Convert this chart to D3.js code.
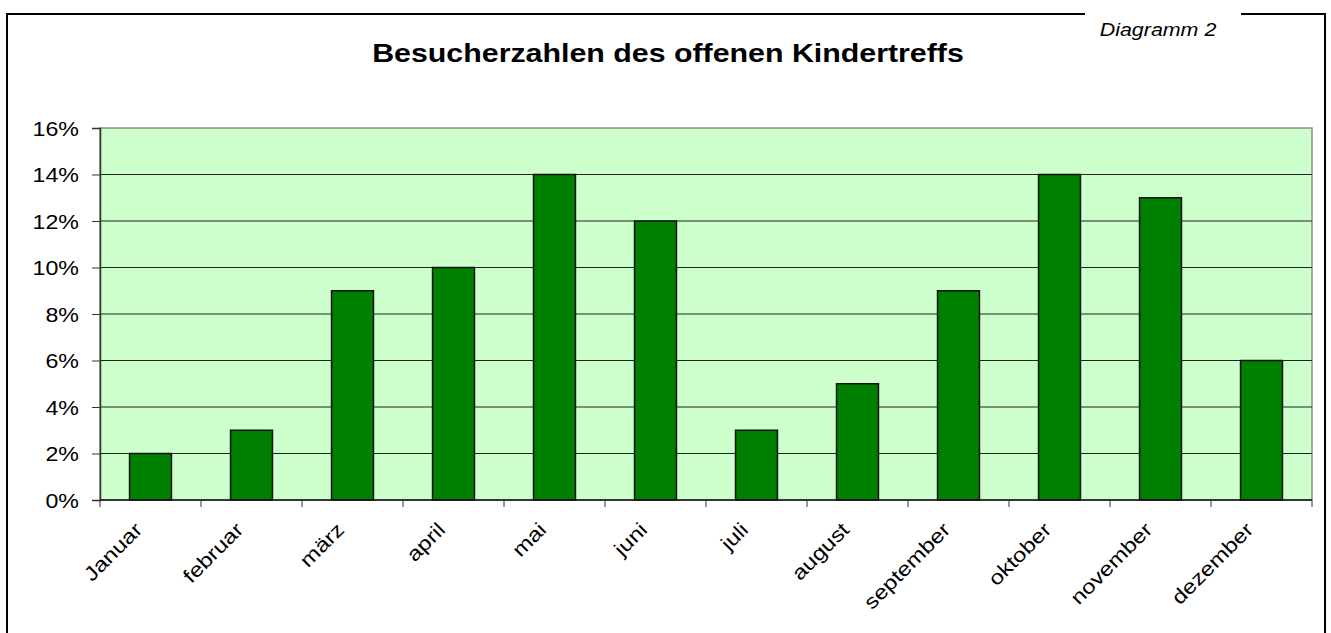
<!DOCTYPE html>
<html>
<head>
<meta charset="utf-8">
<title>Besucherzahlen</title>
<style>
  body { margin: 0; background: #fff; }
  text { font-family: Arial, "Liberation Sans", sans-serif; fill: #000; }
</style>
</head>
<body>
<script src="https://cdn.jsdelivr.net/npm/d3@7"></script>
<script>
// data
var months = ["Januar", "februar", "märz", "april", "mai", "juni", "juli",
  "august", "september", "oktober", "november", "dezember"];
var values = [2, 3, 9, 10, 14, 12, 3, 5, 9, 14, 13, 6];
var yTicks = [0, 2, 4, 6, 8, 10, 12, 14, 16];
var title = "Besucherzahlen des offenen Kindertreffs";
var caption = "Diagramm 2";

var W = 1331, H = 633;
var stretch = 1.19; // text in the original is a bit wide
var plot = { left: 100, top: 128, right: 1312, bottom: 500 };

var svg = d3.select("body").append("svg")
  .attr("width", W)
  .attr("height", H);

// frame with a gap on top for the caption
svg.append("path")
  .attr("d", "M1085,14 H7 V640 M1241,14 H1325 V640")
  .attr("fill", "none")
  .attr("stroke", "#000")
  .attr("stroke-width", 2);

svg.append("text")
  .attr("transform", "translate(1158,36) scale(" + stretch + ",1)")
  .attr("text-anchor", "middle")
  .style("font-size", "18px")
  .style("font-style", "italic")
  .text(caption);

svg.append("text")
  .attr("transform", "translate(668,62) scale(" + stretch + ",1)")
  .attr("text-anchor", "middle")
  .style("font-size", "25.5px")
  .style("font-weight", "bold")
  .text(title);

var x = d3.scaleBand()
  .domain(months)
  .range([plot.left, plot.right])
  .paddingInner(0.585)
  .paddingOuter(0.2925);

var y = d3.scaleLinear()
  .domain([0, 16])
  .range([plot.bottom, plot.top]);

// plot background
svg.append("rect")
  .attr("x", plot.left)
  .attr("y", plot.top)
  .attr("width", plot.right - plot.left)
  .attr("height", plot.bottom - plot.top)
  .attr("fill", "#ccffcc")
  .attr("stroke", "#8c8c8c")
  .attr("stroke-width", 1.5);

// grid
svg.append("g")
  .selectAll("line")
  .data(yTicks.filter(function(d) { return d > 0 && d < 16; }))
  .enter().append("line")
  .attr("x1", plot.left)
  .attr("x2", plot.right)
  .attr("y1", function(d) { return y(d); })
  .attr("y2", function(d) { return y(d); })
  .attr("stroke", "#222")
  .attr("stroke-width", 1);

// bars
svg.append("g")
  .selectAll("rect")
  .data(values)
  .enter().append("rect")
  .attr("x", function(d, i) { return x(months[i]); })
  .attr("y", function(d) { return y(d); })
  .attr("width", x.bandwidth())
  .attr("height", function(d) { return y(0) - y(d); })
  .attr("fill", "#008000")
  .attr("stroke", "#111")
  .attr("stroke-width", 1.5);

// y axis
var yAxis = svg.append("g")
  .attr("transform", "translate(" + plot.left + ",0)")
  .call(d3.axisLeft(y).tickValues(yTicks).tickSize(8).tickPadding(13)
    .tickFormat(function(d) { return d + "%"; }));
yAxis.select(".domain").attr("stroke", "#333").attr("stroke-width", 1.5);
yAxis.selectAll(".tick line").attr("stroke", "#333");
yAxis.selectAll(".tick text")
  .attr("x", null).attr("dy", null)
  .attr("transform", "translate(-21,7) scale(" + stretch + ",1)")
  .style("font-size", "19.5px")
  .style("font-family", "Arial, 'Liberation Sans', sans-serif")
  .attr("fill", "#000");

// x axis: ticks sit on the category borders
var borders = d3.range(months.length + 1).map(function(i) {
  return plot.left + i * (plot.right - plot.left) / months.length;
});
svg.append("line")
  .attr("x1", plot.left).attr("x2", plot.right)
  .attr("y1", plot.bottom).attr("y2", plot.bottom)
  .attr("stroke", "#111").attr("stroke-width", 1.5);
svg.append("g")
  .selectAll("line")
  .data(borders)
  .enter().append("line")
  .attr("x1", function(d) { return d; })
  .attr("x2", function(d) { return d; })
  .attr("y1", plot.bottom)
  .attr("y2", plot.bottom + 7)
  .attr("stroke", "#333");

svg.append("g")
  .selectAll("text")
  .data(months)
  .enter().append("text")
  .attr("transform", function(d) {
    var cx = x(d) + x.bandwidth() / 2;
    return "translate(" + (cx - 7) + "," + (plot.bottom + 31) + ") rotate(-45) scale(" + stretch + ",1)";
  })
  .attr("text-anchor", "end")
  .style("font-size", "20px")
  .text(function(d) { return d; });
</script>
</body>
</html>
